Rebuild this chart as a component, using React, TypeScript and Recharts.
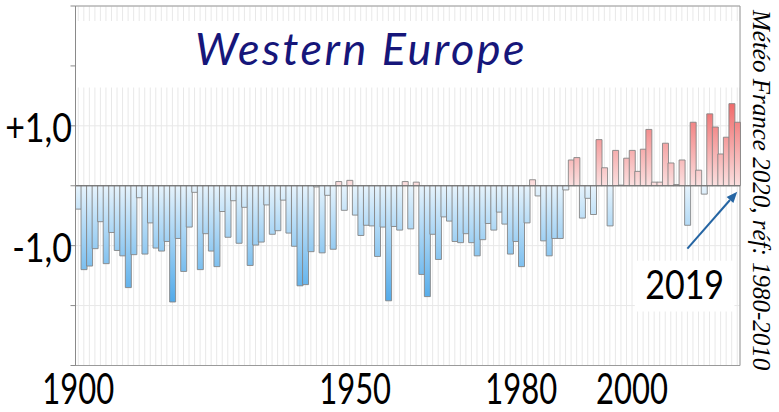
import React from 'react';
import { BarChart, Bar, XAxis, YAxis, CartesianGrid, ReferenceLine, ReferenceArea, Cell } from 'recharts';

// ---------- data ----------
const START_YEAR = 1900;
const ANOMALIES = [
  -0.39, -1.40, -1.34, -1.05, -0.60, -1.30, -0.78, -1.08, -1.17, -1.70,
  -1.15, -0.20, -1.14, -0.62, -1.04, -1.09, -0.93, -1.94, -0.88, -1.43,
  -0.69, -0.11, -1.40, -0.80, -1.09, -1.35, -0.43, -0.86, -0.25, -0.96,
  -0.36, -1.33, -0.99, -0.94, -0.32, -0.81, -0.75, -0.24, -0.79, -1.01,
  -1.67, -1.65, -1.10, -0.02, -1.12, -0.16, -1.06, 0.07, -0.41, 0.09,
  -0.49, -0.83, -0.66, -0.67, -1.18, -0.69, -1.92, -0.68, -0.74, 0.07,
  -0.72, 0.06, -1.48, -1.85, -0.81, -1.23, -0.52, -0.59, -0.93, -0.95,
  -0.80, -0.95, -1.17, -0.90, -0.63, -0.74, -0.44, -0.64, -1.14, -0.93,
  -1.35, -0.62, 0.10, -0.17, -0.92, -1.17, -0.88, -0.88, -0.07, 0.43,
  0.47, -0.54, -0.21, -0.48, 0.77, 0.30, -0.67, 0.59, 0.01, 0.46,
  0.59, 0.24, 0.61, 0.94, 0.06, 0.06, 0.71, 0.38, 0.02, 0.43,
  -0.66, 1.06, 0.26, -0.14, 1.20, 0.98, 0.53, 0.81, 1.37, 1.06,
];
const YEARS = ANOMALIES.map((_, i) => String(START_YEAR + i));
const X_LABEL_YEARS = ['1900', '1950', '1980', '2000'];
const Y_TICKS = [-3, -2, -1, 0, 1, 2, 3];
const Y_LABELS: Record<string, string> = { '1': '+1,0', '-1': '-1,0' };
const TITLE = 'Western Europe';
const CREDIT = 'Météo France 2020, réf: 1980-2010';
const ANNOTATION = '2019';
const ARROW_FROM = { year: '2010', value: -1.05 };
const ARROW_TO = { year: '2019', value: -0.1 };
const ANNOT_BOX = { x1: '2001', x2: '2018', y1: -2.1, y2: -1.25 };
const TITLE_BOX = { y1: 1.64, y2: 2.75 };

const data = YEARS.map((year, i) => ({ year, value: ANOMALIES[i] }));

// ---------- layout ----------
const W = 779;
const H = 412;
const PLOT_TOP = 6;
const PLOT_BOTTOM = 365.5;
const Y_MIN = -3;
const Y_MAX = 3;
const valToY = (v: number) => PLOT_TOP + ((Y_MAX - v) / (Y_MAX - Y_MIN)) * (PLOT_BOTTOM - PLOT_TOP);

const SANS = 'Lato, "Open Sans", sans-serif';

const XTick = (props: any) => {
  const { x, payload } = props;
  if (!X_LABEL_YEARS.includes(String(payload.value))) return <g />;
  return (
    <g transform={`translate(${x},${PLOT_BOTTOM + 38})`}>
      <text transform="scale(1,1.35)" x={0} y={0} textAnchor="middle" fontFamily={SANS} fontSize={31} fill="#000">
        {payload.value}
      </text>
    </g>
  );
};

const YTick = (props: any) => {
  const { y, payload } = props;
  const label = Y_LABELS[String(payload.value)];
  if (!label) return <g />;
  return (
    <g transform={`translate(72,${y + 16})`}>
      <text transform="scale(1,1.2)" x={0} y={0} textAnchor="end" fontFamily={SANS} fontSize={34} fill="#000">
        {label}
      </text>
    </g>
  );
};

const ArrowShape = (props: any) => {
  const { x1, y1, x2, y2 } = props;
  if ([x1, y1, x2, y2].some((v) => typeof v !== 'number' || isNaN(v))) return <g />;
  const ang = Math.atan2(y2 - y1, x2 - x1);
  const len = 11;
  const half = 4.5;
  const bx = x2 - len * Math.cos(ang);
  const by = y2 - len * Math.sin(ang);
  const px = -Math.sin(ang) * half;
  const py = Math.cos(ang) * half;
  return (
    <g>
      <line x1={x1} y1={y1} x2={bx} y2={by} stroke="#2565a3" strokeWidth={2} />
      <polygon points={`${x2},${y2} ${bx + px},${by + py} ${bx - px},${by - py}`} fill="#2565a3" />
    </g>
  );
};

const AnnotLabel = (props: any) => {
  const vb = props.viewBox || {};
  const cx = vb.x + vb.width / 2;
  const cy = vb.y + vb.height / 2;
  return (
    <g transform={`translate(${cx},${cy + 13})`}>
      <text transform="scale(1,1.2)" x={0} y={0} textAnchor="middle" fontFamily={SANS} fontSize={34} fill="#000">
        {ANNOTATION}
      </text>
    </g>
  );
};

export default function App() {
  const zeroY = valToY(0);
  return (
    <div style={{ position: 'absolute', left: 0, top: 0, width: W, height: H, background: '#fff' }}>
      <BarChart
        width={W}
        height={H}
        data={data}
        margin={{ top: PLOT_TOP, right: 39, bottom: 0, left: 0 }}
        barCategoryGap={0}
        barGap={0}
      >
        <defs>
          <linearGradient id="blueGrad" gradientUnits="userSpaceOnUse" x1="0" y1={zeroY} x2="0" y2={valToY(-2.1)}>
            <stop offset="0%" stopColor="#e6f3fc" />
            <stop offset="100%" stopColor="#45a4e8" />
          </linearGradient>
          <linearGradient id="redGrad" gradientUnits="userSpaceOnUse" x1="0" y1={zeroY} x2="0" y2={valToY(1.5)}>
            <stop offset="0%" stopColor="#fbe0e0" />
            <stop offset="100%" stopColor="#ef5f5f" />
          </linearGradient>
        </defs>
        <CartesianGrid stroke="#e8e8e8" strokeWidth={1} />
        <XAxis
          dataKey="year"
          interval={0}
          tickLine={false}
          axisLine={{ stroke: '#9a9a9a' }}
          height={H - PLOT_BOTTOM}
          tick={<XTick />}
        />
        <YAxis
          type="number"
          domain={[Y_MIN, Y_MAX]}
          ticks={Y_TICKS}
          width={75.5}
          axisLine={{ stroke: '#8a8a8a' }}
          tickLine={{ stroke: '#8a8a8a' }}
          tickSize={5}
          tick={<YTick />}
        />
        <ReferenceArea y1={TITLE_BOX.y1} y2={TITLE_BOX.y2} fill="#ffffff" fillOpacity={1} stroke="none" ifOverflow="visible" />
        <Bar dataKey="value" isAnimationActive={false} stroke="#858585" strokeWidth={0.9}>
          {data.map((d) => (
            <Cell key={d.year} fill={d.value >= 0 ? 'url(#redGrad)' : 'url(#blueGrad)'} />
          ))}
        </Bar>
        <ReferenceLine y={0} stroke="#6e6e6e" strokeWidth={1.2} />
        <ReferenceArea y1={Y_MIN} y2={Y_MAX} fill="none" stroke="#9a9a9a" strokeWidth={1} ifOverflow="visible" />
        <ReferenceArea
          x1={ANNOT_BOX.x1}
          x2={ANNOT_BOX.x2}
          y1={ANNOT_BOX.y1}
          y2={ANNOT_BOX.y2}
          fill="#ffffff"
          fillOpacity={1}
          stroke="none"
          ifOverflow="visible"
          label={<AnnotLabel />}
        />
        <ReferenceLine
          segment={[
            { x: ARROW_FROM.year, y: ARROW_FROM.value },
            { x: ARROW_TO.year, y: ARROW_TO.value },
          ]}
          ifOverflow="visible"
          shape={<ArrowShape />}
        />
      </BarChart>
      <div
        style={{
          position: 'absolute',
          left: 0,
          width: 722,
          top: 22,
          textAlign: 'center',
          fontFamily: SANS,
          fontStyle: 'italic',
          fontSize: 45,
          letterSpacing: 2.5,
          lineHeight: '52px',
          color: '#16167a',
        }}
      >
        {TITLE}
      </div>
      <div
        style={{
          position: 'absolute',
          left: 747,
          top: 10,
          writingMode: 'vertical-rl',
          fontFamily: '"Liberation Serif", "DejaVu Serif", serif',
          fontStyle: 'italic',
          fontSize: 25,
          lineHeight: '28px',
          color: '#000',
          whiteSpace: 'nowrap',
        }}
      >
        {CREDIT}
      </div>
    </div>
  );
}
